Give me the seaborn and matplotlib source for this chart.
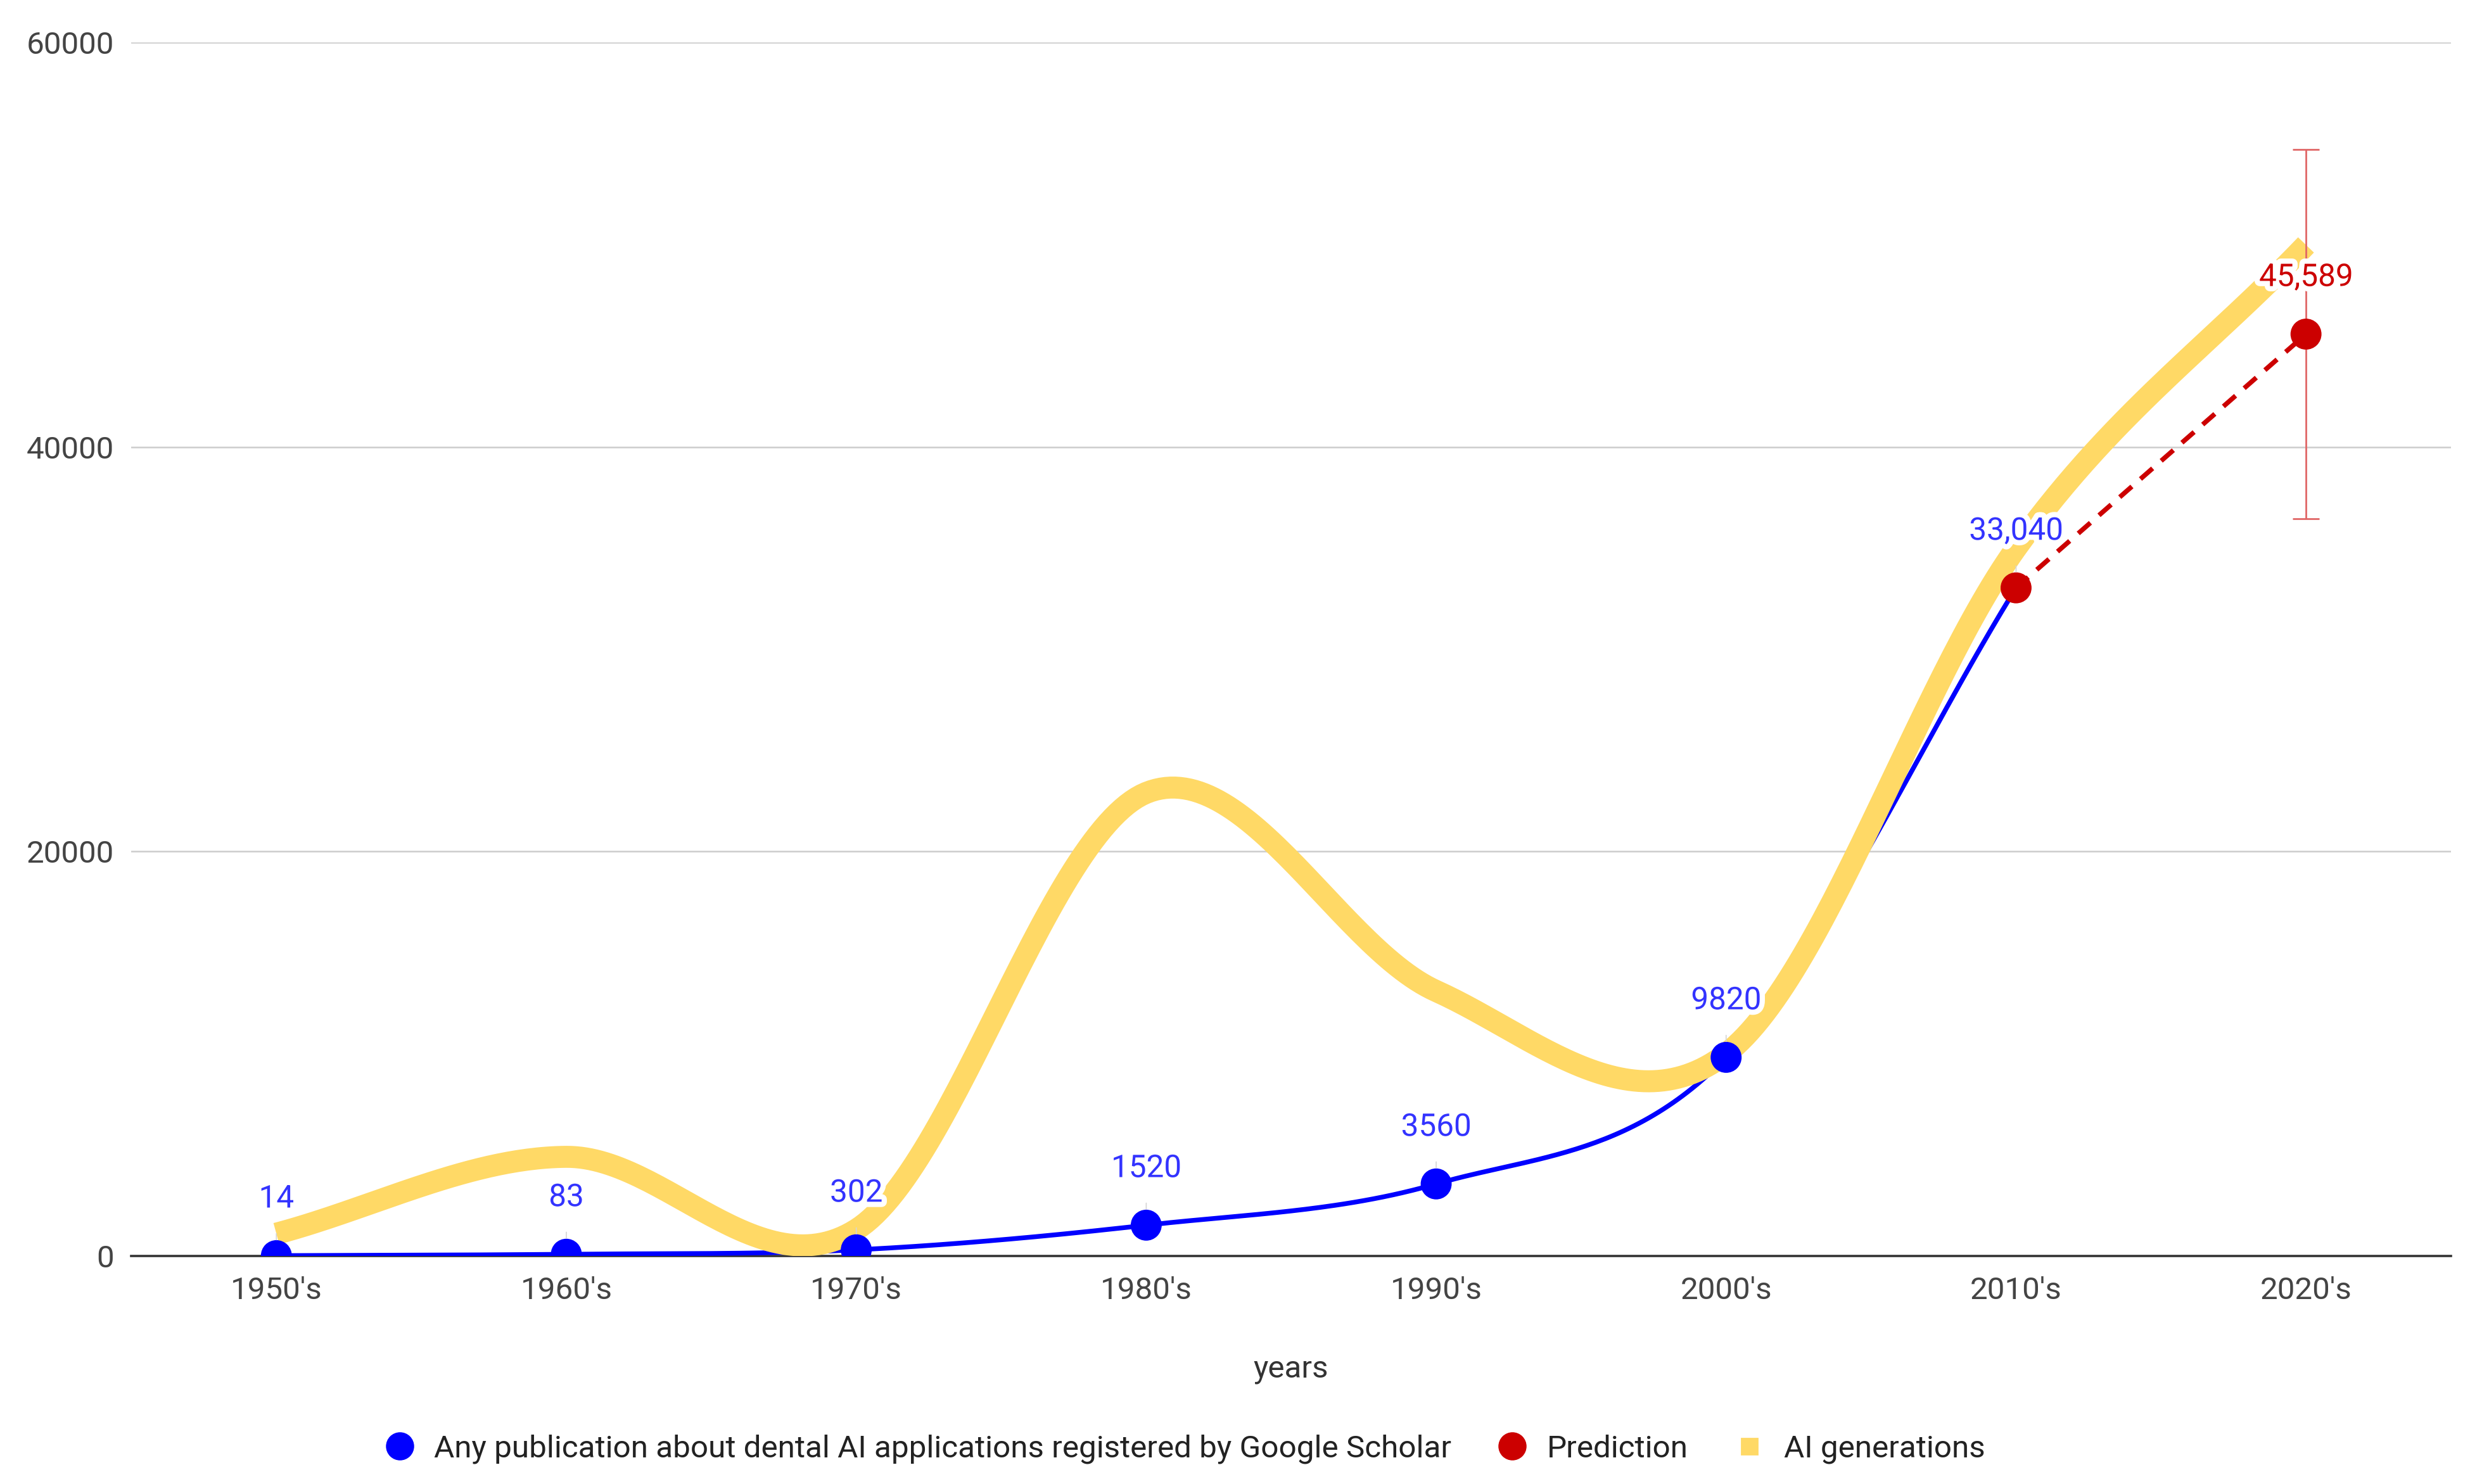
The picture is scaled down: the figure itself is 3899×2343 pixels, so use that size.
import numpy as np
import pandas as pd
import matplotlib
matplotlib.use("Agg")
import matplotlib.pyplot as plt
import matplotlib.patheffects as pe
from matplotlib.lines import Line2D
import seaborn as sns

# ---------------- data ----------------
decades = ["1950's", "1960's", "1970's", "1980's", "1990's", "2000's", "2010's", "2020's"]
pub_values = [14, 83, 302, 1520, 3560, 9820, 33040]
pub_labels = ["14", "83", "302", "1520", "3560", "9820", "33,040"]
pred_values = [33040, 45589]
pred_label = "45,589"
pred_error = 9118
ai_gen_values = [1100, 4900, 1300, 22900, 13100, 10000, 35000, 50000]
y_ticks = [0, 20000, 40000, 60000]

BLUE = "#0000ff"
BLUE_TXT = "#3333ff"
RED = "#cc0000"
RED_BAR = "#e06666"
YELLOW = "#ffd966"

sns.set_theme(style="white")
plt.rcParams["font.family"] = ["Roboto", "DejaVu Sans"]
FS = 17.8


def smooth(y, n=60):
    """Cubic Hermite (Catmull-Rom) smoothing through the given points."""
    y = np.asarray(y, float)
    x = np.arange(len(y), dtype=float)
    m = np.gradient(y, x)
    xs, ys = [], []
    for i in range(len(y) - 1):
        t = np.linspace(0, 1, n, endpoint=(i == len(y) - 2))
        h00 = 2 * t**3 - 3 * t**2 + 1
        h10 = t**3 - 2 * t**2 + t
        h01 = -2 * t**3 + 3 * t**2
        h11 = t**3 - t**2
        xs.append(x[i] + t)
        ys.append(h00 * y[i] + h10 * m[i] + h01 * y[i + 1] + h11 * m[i + 1])
    return np.concatenate(xs), np.concatenate(ys)


fig = plt.figure(figsize=(19.495, 11.715), dpi=200)
ax = fig.add_axes([0.0532, 0.1537, 0.9391, 0.8175])

# blue smoothed line
bx, by = smooth(pub_values)
sns.lineplot(x=bx, y=by, ax=ax, color=BLUE, lw=2.7, sort=False, zorder=3,
             legend=False)

# yellow AI generations
yx, yy = smooth(ai_gen_values)
sns.lineplot(x=yx, y=yy, ax=ax, color=YELLOW, lw=12.5, sort=False, zorder=4,
             legend=False)
ax.lines[-1].set_solid_capstyle("butt")

# prediction dashed + error bar
pred_x = [6, 7]
ax.errorbar([7], [pred_values[1]], yerr=[pred_error], fmt="none",
            ecolor=RED_BAR, elinewidth=1.0, capsize=7.6, capthick=1.0, zorder=5)
sns.lineplot(x=pred_x, y=pred_values, ax=ax, color=RED, lw=2.7, zorder=6,
             legend=False)
ax.lines[-1].set_linestyle((0, (3.4, 2.4)))

# markers
sns.scatterplot(x=list(range(len(pub_values) - 1)), y=pub_values[:-1], ax=ax,
                color=BLUE, s=310, edgecolor="none", zorder=7, legend=False)
sns.scatterplot(x=pred_x, y=pred_values, ax=ax, color=RED, s=310,
                edgecolor="none", zorder=7, legend=False)

# data labels
halo = [pe.withStroke(linewidth=6, foreground="white")]
for i, (v, lab) in enumerate(zip(pub_values, pub_labels)):
    ax.annotate(lab, xy=(i, v), xytext=(0, 32), textcoords="offset points",
                ha="center", va="center", color=BLUE_TXT, fontsize=FS,
                path_effects=halo, zorder=10,
                arrowprops=dict(arrowstyle="-", color="#d4d4d4", lw=0.6,
                                shrinkA=9, shrinkB=9))
ax.annotate(pred_label, xy=(7, pred_values[1]), xytext=(0, 32),
            textcoords="offset points", ha="center", va="center", color=RED,
            fontsize=FS, path_effects=halo, zorder=10)

# axes styling
ax.set_xlim(-0.5, 7.5)
ax.set_ylim(0, 60000)
ax.set_xticks(range(len(decades)))
ax.set_xticklabels(decades)
ax.set_yticks(y_ticks)
ax.set_yticklabels([str(t) for t in y_ticks])
ax.tick_params(axis="x", length=0, pad=11.5, labelsize=FS, labelcolor="#444444")
ax.tick_params(axis="y", length=0, pad=9.8, labelsize=FS, labelcolor="#444444")
ax.grid(axis="y", color="#cccccc", lw=0.9)
ax.grid(axis="x", visible=False)
for s in ["top", "right", "left"]:
    ax.spines[s].set_visible(False)
ax.spines["bottom"].set_color("#333333")
ax.spines["bottom"].set_linewidth(1.3)
ax.spines["bottom"].set_zorder(2)
ax.set_axisbelow(True)
ax.set_xlabel("years", fontsize=FS, color="#333333", labelpad=28)
ax.set_ylabel("")

# legend
handles = [
    Line2D([], [], ls="none", marker="o", markersize=15, color=BLUE),
    Line2D([], [], ls="none", marker="o", markersize=15, color=RED),
    Line2D([], [], ls="none", marker="s", markersize=9, color=YELLOW),
]
labels = ["Any publication about dental AI applications registered by Google Scholar",
          "Prediction", "AI generations"]
fig.legend(handles, labels, loc="center", bbox_to_anchor=(0.4795, 0.0235), ncol=3,
           frameon=False, fontsize=FS, handletextpad=0.6, columnspacing=1.45,
           handlelength=1.0, labelcolor="#222222")

fig.savefig("out.png", dpi=200)
